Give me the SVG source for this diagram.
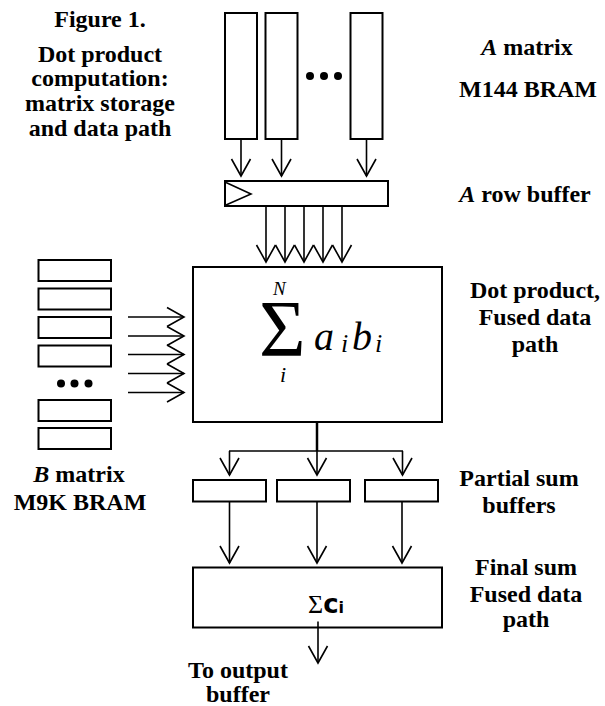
<svg xmlns="http://www.w3.org/2000/svg" width="605" height="706" viewBox="0 0 605 706">
<defs>
<style>
.box{fill:#fff;stroke:#000;stroke-width:2}
.ln{fill:none;stroke:#000;stroke-width:1.6}
.lbl{font-family:"Liberation Serif","Times New Roman",serif;font-weight:bold;font-size:24px;fill:#000;text-anchor:middle}
.it{font-style:italic}
.math{font-family:"Liberation Serif","Times New Roman",serif;font-style:italic;fill:#000}
</style>
<marker id="ah" markerUnits="userSpaceOnUse" markerWidth="20" markerHeight="22" viewBox="-18 -11 20 22" refX="0" refY="0" orient="auto">
<path d="M-17,-9.5 L0,0 L-17,9.5" fill="none" stroke="#000" stroke-width="1.6"/>
</marker>
</defs>
<rect width="605" height="706" fill="#fff"/>

<g id="caption">
<text class="lbl" x="100" y="27">Figure 1.</text>
<text class="lbl" x="100" y="62">Dot product</text>
<text class="lbl" x="100" y="86">computation:</text>
<text class="lbl" x="100" y="111">matrix storage</text>
<text class="lbl" x="100" y="136">and data path</text>
</g>

<g id="a-matrix">
<rect class="box" x="225" y="13" width="32" height="126"/>
<rect class="box" x="265.5" y="13" width="32" height="126"/>
<rect class="box" x="350.5" y="13" width="32" height="126"/>
<circle cx="310" cy="76" r="4"/>
<circle cx="324" cy="76" r="4"/>
<circle cx="338" cy="76" r="4"/>
<text class="lbl" x="527" y="55"><tspan class="it">A</tspan> matrix</text>
<text class="lbl" x="528" y="97">M144 BRAM</text>
</g>

<g id="row-buffer">
<rect class="box" x="225" y="181" width="163" height="25"/>
<path d="M226,182.5 L251,194 L226,205" class="ln"/>
<text class="lbl" x="525" y="202"><tspan class="it">A</tspan> row buffer</text>
</g>

<g id="b-matrix">
<rect class="box" x="38.5" y="260" width="72.5" height="21"/>
<rect class="box" x="38.5" y="288.5" width="72.5" height="21"/>
<rect class="box" x="38.5" y="317" width="72.5" height="21"/>
<rect class="box" x="38.5" y="345.5" width="72.5" height="21"/>
<circle cx="61" cy="383.5" r="4"/>
<circle cx="74.5" cy="383.5" r="4"/>
<circle cx="88.5" cy="383.5" r="4"/>
<rect class="box" x="38.5" y="400" width="72.5" height="21"/>
<rect class="box" x="38.5" y="428" width="72.5" height="21"/>
<text class="lbl" x="79" y="482"><tspan class="it">B</tspan> matrix</text>
<text class="lbl" x="80" y="510">M9K BRAM</text>
</g>

<g id="dot-product">
<rect class="box" x="193" y="267" width="249" height="155"/>
<text x="259" y="356" font-family="Liberation Serif, serif" font-size="80">Σ</text>
<text class="math" x="273" y="295" font-size="19">N</text>
<text class="math" x="280" y="382" font-size="22">i</text>
<text class="math" x="314" y="350" font-size="40">a</text>
<text class="math" x="341" y="352" font-size="26">i</text>
<text class="math" x="352" y="350" font-size="40">b</text>
<text class="math" x="375" y="352" font-size="26">i</text>
<text class="lbl" x="535" y="298">Dot product,</text>
<text class="lbl" x="535" y="325">Fused data</text>
<text class="lbl" x="535" y="352">path</text>
</g>

<g id="partial-sums">
<rect class="box" x="193" y="480" width="73" height="21.5"/>
<rect class="box" x="277" y="480" width="73" height="21.5"/>
<rect class="box" x="365" y="480" width="73" height="21.5"/>
<text class="lbl" x="519" y="486">Partial sum</text>
<text class="lbl" x="519" y="513">buffers</text>
</g>

<g id="final-sum">
<rect class="box" x="193" y="567.5" width="249" height="60"/>
<text x="308" y="613" fill="#000"><tspan font-family="Liberation Serif, serif" font-size="26">Σ</tspan><tspan font-family="DejaVu Sans, sans-serif" font-weight="bold" font-size="26">c</tspan><tspan font-family="DejaVu Sans, sans-serif" font-weight="bold" font-size="16">i</tspan></text>
<text class="lbl" x="526" y="575">Final sum</text>
<text class="lbl" x="526" y="602">Fused data</text>
<text class="lbl" x="526" y="627">path</text>
</g>

<g id="output">
<text class="lbl" x="238" y="678">To output</text>
<text class="lbl" x="238" y="702">buffer</text>
</g>

<g id="connectors">
<line class="ln" x1="241" y1="139" x2="241" y2="176" marker-end="url(#ah)"/>
<line class="ln" x1="281.5" y1="139" x2="281.5" y2="176" marker-end="url(#ah)"/>
<line class="ln" x1="366.5" y1="139" x2="366.5" y2="176" marker-end="url(#ah)"/>

<line class="ln" x1="266" y1="206" x2="266" y2="262" marker-end="url(#ah)"/>
<line class="ln" x1="285" y1="206" x2="285" y2="262" marker-end="url(#ah)"/>
<line class="ln" x1="304" y1="206" x2="304" y2="262" marker-end="url(#ah)"/>
<line class="ln" x1="323" y1="206" x2="323" y2="262" marker-end="url(#ah)"/>
<line class="ln" x1="342" y1="206" x2="342" y2="262" marker-end="url(#ah)"/>

<line class="ln" x1="128" y1="317" x2="184" y2="317" marker-end="url(#ah)"/>
<line class="ln" x1="128" y1="336" x2="184" y2="336" marker-end="url(#ah)"/>
<line class="ln" x1="128" y1="354.5" x2="184" y2="354.5" marker-end="url(#ah)"/>
<line class="ln" x1="128" y1="373.5" x2="184" y2="373.5" marker-end="url(#ah)"/>
<line class="ln" x1="128" y1="392.5" x2="184" y2="392.5" marker-end="url(#ah)"/>

<line x1="317" y1="422" x2="317" y2="451" stroke="#000" stroke-width="2.5"/>
<line class="ln" x1="229" y1="451" x2="403" y2="451"/>
<line class="ln" x1="229.5" y1="451" x2="229.5" y2="475" marker-end="url(#ah)"/>
<line class="ln" x1="317" y1="451" x2="317" y2="475" marker-end="url(#ah)"/>
<line class="ln" x1="402.5" y1="451" x2="402.5" y2="475" marker-end="url(#ah)"/>

<line class="ln" x1="229.5" y1="502" x2="229.5" y2="563" marker-end="url(#ah)"/>
<line class="ln" x1="317" y1="502" x2="317" y2="563" marker-end="url(#ah)"/>
<line class="ln" x1="402" y1="502" x2="402" y2="563" marker-end="url(#ah)"/>

<line class="ln" x1="318" y1="621.5" x2="318" y2="663" marker-end="url(#ah)"/>
</g>
</svg>
